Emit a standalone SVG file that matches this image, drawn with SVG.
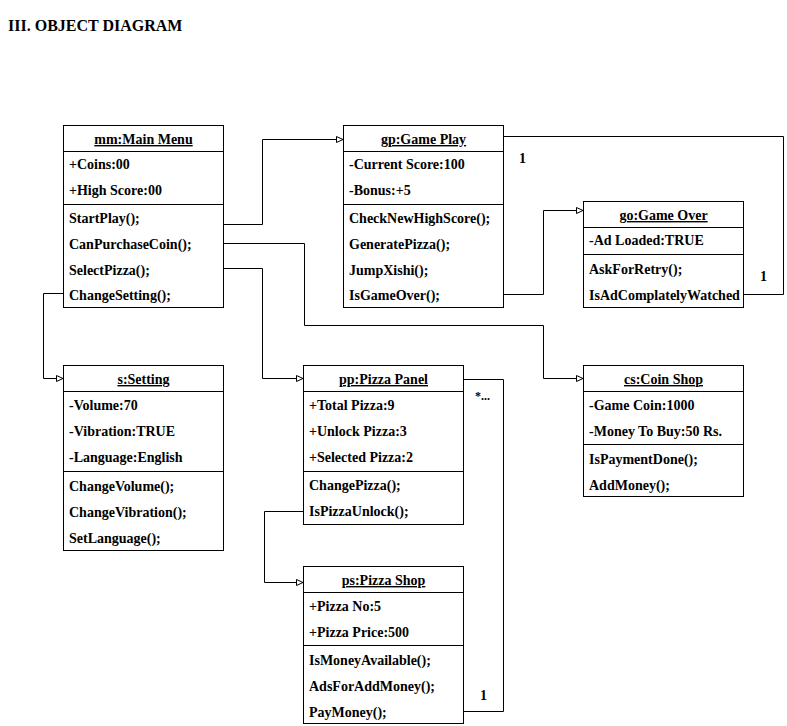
<svg xmlns="http://www.w3.org/2000/svg" width="787" height="726" viewBox="0 0 787 726">
<style>
text{font-family:"Liberation Serif","Times New Roman",serif;font-weight:bold;font-size:14px;fill:#000}
.t{font-size:16px}
.h{text-anchor:middle;text-decoration:underline}
.m{font-size:12px}
.box{fill:#fff;stroke:#000;stroke-width:1}
.ln{stroke:#000;stroke-width:1;fill:none}
.c{fill:none;stroke:#000;stroke-width:1}
</style>
<defs>
<marker id="arr" markerWidth="8" markerHeight="8" refX="7" refY="3.5" orient="auto" markerUnits="userSpaceOnUse">
<path d="M0.5,0.5 L7,3.5 L0.5,6.5 Z" fill="#fff" stroke="#000" stroke-width="1"/>
</marker>
</defs>
<rect width="787" height="726" fill="#fff"/>
<text class="t" x="8" y="31">III. OBJECT DIAGRAM</text>

<g id="connectors">
<path class="c" d="M223.5,224.5 H262.5 V139.5 H343" marker-end="url(#arr)"/>
<path class="c" d="M223.5,243.5 H304.5 V325.5 H543.5 V378.5 H583" marker-end="url(#arr)"/>
<path class="c" d="M223.5,268.5 H262.5 V378.5 H303" marker-end="url(#arr)"/>
<path class="c" d="M63.5,293.5 H43.5 V378.5 H63" marker-end="url(#arr)"/>
<path class="c" d="M503.5,294.5 H543.5 V210.5 H583" marker-end="url(#arr)"/>
<path class="c" d="M503.5,136.5 H783.5 V294.5 H743.5"/>
<path class="c" d="M303.5,511.5 H264.5 V582.5 H303" marker-end="url(#arr)"/>
<path class="c" d="M463.5,379.5 H503.5 V711.5 H463.5"/>
<text x="519" y="163">1</text>
<text x="760" y="281">1</text>
<text class="m" x="475" y="400">*...</text>
<text x="480" y="700">1</text>
</g>

<g id="mm">
<rect class="box" x="63.5" y="125.5" width="160" height="182"/>
<path class="ln" d="M63.5,151.5 H223.5 M63.5,204.5 H223.5"/>
<text class="h" x="143.5" y="144">mm:Main Menu</text>
<text x="69" y="169">+Coins:00</text>
<text x="69" y="195">+High Score:00</text>
<text x="69" y="223">StartPlay();</text>
<text x="69" y="249">CanPurchaseCoin();</text>
<text x="69" y="275">SelectPizza();</text>
<text x="69" y="300">ChangeSetting();</text>
</g>

<g id="gp">
<rect class="box" x="343.5" y="125.5" width="160" height="182"/>
<path class="ln" d="M343.5,151.5 H503.5 M343.5,204.5 H503.5"/>
<text class="h" x="423.5" y="144">gp:Game Play</text>
<text x="349" y="169">-Current Score:100</text>
<text x="349" y="195">-Bonus:+5</text>
<text x="349" y="223">CheckNewHighScore();</text>
<text x="349" y="249">GeneratePizza();</text>
<text x="349" y="275">JumpXishi();</text>
<text x="349" y="300">IsGameOver();</text>
</g>

<g id="go">
<rect class="box" x="583.5" y="201.5" width="160" height="106"/>
<path class="ln" d="M583.5,227.5 H743.5 M583.5,254.5 H743.5"/>
<text class="h" x="663.5" y="220">go:Game Over</text>
<text x="589" y="245">-Ad Loaded:TRUE</text>
<text x="589" y="274">AskForRetry();</text>
<text x="589" y="300">IsAdComplatelyWatched</text>
</g>

<g id="s">
<rect class="box" x="63.5" y="365.5" width="160" height="185"/>
<path class="ln" d="M63.5,391.5 H223.5 M63.5,471.5 H223.5"/>
<text class="h" x="143.5" y="384">s:Setting</text>
<text x="69" y="410">-Volume:70</text>
<text x="69" y="436">-Vibration:TRUE</text>
<text x="69" y="462">-Language:English</text>
<text x="69" y="491">ChangeVolume();</text>
<text x="69" y="517">ChangeVibration();</text>
<text x="69" y="543">SetLanguage();</text>
</g>

<g id="pp">
<rect class="box" x="303.5" y="365.5" width="160" height="159"/>
<path class="ln" d="M303.5,391.5 H463.5 M303.5,471.5 H463.5"/>
<text class="h" x="383.5" y="384">pp:Pizza Panel</text>
<text x="309" y="410">+Total Pizza:9</text>
<text x="309" y="436">+Unlock Pizza:3</text>
<text x="309" y="462">+Selected Pizza:2</text>
<text x="309" y="490">ChangePizza();</text>
<text x="309" y="516">IsPizzaUnlock();</text>
</g>

<g id="cs">
<rect class="box" x="583.5" y="365.5" width="160" height="131"/>
<path class="ln" d="M583.5,391.5 H743.5 M583.5,444.5 H743.5"/>
<text class="h" x="663.5" y="384">cs:Coin Shop</text>
<text x="589" y="410">-Game Coin:1000</text>
<text x="589" y="436">-Money To Buy:50 Rs.</text>
<text x="589" y="464">IsPaymentDone();</text>
<text x="589" y="490">AddMoney();</text>
</g>

<g id="ps">
<rect class="box" x="303.5" y="566.5" width="160" height="157"/>
<path class="ln" d="M303.5,592.5 H463.5 M303.5,645.5 H463.5"/>
<text class="h" x="383.5" y="585">ps:Pizza Shop</text>
<text x="309" y="611">+Pizza No:5</text>
<text x="309" y="637">+Pizza Price:500</text>
<text x="309" y="665">IsMoneyAvailable();</text>
<text x="309" y="691">AdsForAddMoney();</text>
<text x="309" y="717">PayMoney();</text>
</g>
</svg>
